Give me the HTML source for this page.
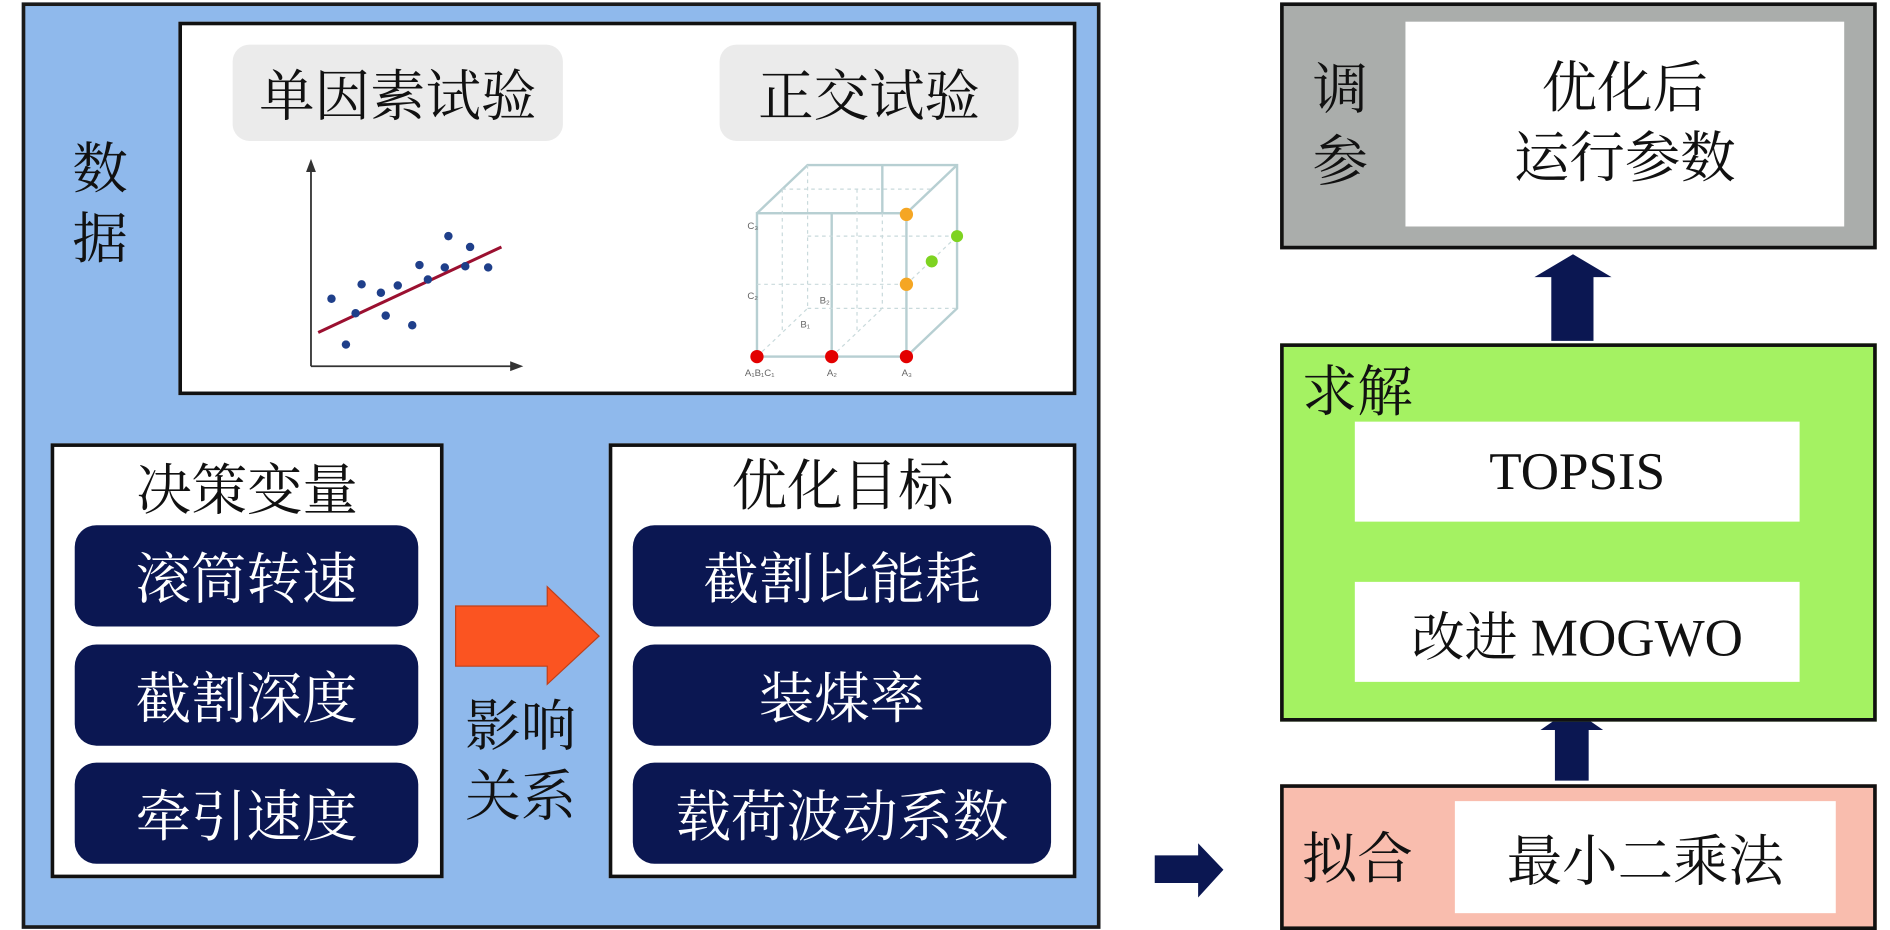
<!DOCTYPE html>
<html><head><meta charset="utf-8"><style>
html,body{margin:0;padding:0;background:#fff;width:1890px;height:930px;overflow:hidden}
#s{position:absolute;left:0;top:0;width:1568px;height:772px;transform:scale(1.20536,1.2047);transform-origin:0 0;font-family:"Liberation Serif","Noto Serif CJK SC","Noto Sans CJK SC",serif}
.a{position:absolute;box-sizing:border-box}
.t{display:flex;align-items:center;justify-content:center;font-size:46px;color:#111}
.pill{background:#0b1752;border-radius:18px;color:#fff}
</style></head><body><div id="s">
<div class="a" style="left:18px;top:2px;width:895px;height:769px;background:#8fb9ec;border:3px solid #1a1a1a"></div>
<div class="a" style="left:148px;top:18px;width:745px;height:310px;background:#fff;border:3px solid #111"></div>
<div class="a t" style="left:193px;top:37px;width:274px;height:80px;background:#ebebeb;border-radius:14px">单因素试验</div>
<div class="a t" style="left:597px;top:37px;width:248px;height:80px;background:#ebebeb;border-radius:14px">正交试验</div>
<div class="a t" style="left:58px;top:112px;width:50px;height:116px;flex-direction:column;line-height:58px">数<br>据</div>
<svg class="a" style="left:0;top:0" width="1568" height="772">
<g stroke="#333" stroke-width="1.5" fill="#333">
<line x1="258" y1="138" x2="258" y2="304"/><line x1="258" y1="304" x2="428" y2="304"/>
<polygon points="255,142 261,142 258,134"/><polygon points="424,301 424,307 432,304"/></g>
<line x1="264" y1="276" x2="416" y2="205" stroke="#9b1030" stroke-width="2.5"/>
<g fill="#1f3f8a">
<circle cx="275" cy="248" r="3.5"/><circle cx="287" cy="286" r="3.5"/><circle cx="295" cy="260" r="3.5"/><circle cx="300" cy="236" r="3.5"/><circle cx="316" cy="243" r="3.5"/><circle cx="320" cy="262" r="3.5"/><circle cx="330" cy="237" r="3.5"/><circle cx="342" cy="270" r="3.5"/><circle cx="348" cy="220" r="3.5"/><circle cx="355" cy="232" r="3.5"/><circle cx="369" cy="222" r="3.5"/><circle cx="372" cy="196" r="3.5"/><circle cx="386" cy="221" r="3.5"/><circle cx="390" cy="205" r="3.5"/><circle cx="405" cy="222" r="3.5"/></g>
<g stroke="#b7cfd2" stroke-width="2" fill="none">
<rect x="628" y="177" width="124" height="119"/><polyline points="628,177 670,137 794,137 794,256 752,296"/><line x1="752" y1="177" x2="794" y2="137"/>
<line x1="690" y1="177" x2="690" y2="296"/><line x1="732" y1="137" x2="732" y2="177"/></g>
<g stroke="#c9dadc" stroke-width="1" stroke-dasharray="3,3" fill="none">
<line x1="628" y1="296" x2="670" y2="256"/><line x1="670" y1="137" x2="670" y2="256"/><line x1="670" y1="256" x2="794" y2="256"/>
<line x1="628" y1="236" x2="752" y2="236"/><line x1="649" y1="157" x2="649" y2="276"/><line x1="649" y1="157" x2="773" y2="157"/><line x1="690" y1="296" x2="732" y2="256"/><line x1="732" y1="177" x2="732" y2="256"/><line x1="752" y1="236" x2="794" y2="196"/><line x1="670" y1="196" x2="794" y2="196"/><line x1="711" y1="157" x2="711" y2="276"/></g>
<g font-size="8" fill="#666" font-family="Liberation Sans,sans-serif"><text x="620" y="190">C₃</text><text x="620" y="248">C₂</text><text x="680" y="252">B₂</text><text x="664" y="272">B₁</text><text x="618" y="312">A₁B₁C₁</text><text x="686" y="312">A₂</text><text x="748" y="312">A₃</text></g>
<circle cx="752" cy="178" r="5.5" fill="#f5a623"/><circle cx="752" cy="236" r="5.5" fill="#f5a623"/><circle cx="794" cy="196" r="5" fill="#7ed321"/><circle cx="773" cy="217" r="5" fill="#7ed321"/>
<circle cx="628" cy="296" r="5.5" fill="#e30000"/><circle cx="690" cy="296" r="5.5" fill="#e30000"/><circle cx="752" cy="296" r="5.5" fill="#e30000"/>
<polygon points="378,503 454,503 454,487 497,528 454,568 454,553 378,553" fill="#fb5421" stroke="#c0401a" stroke-width="1"/>
<polygon points="1287,283 1287,230 1273,230 1305,211 1337,230 1322,230 1322,283" fill="#0b1752"/>
<polygon points="1290,648 1290,606 1278,606 1304,588 1330,606 1318,606 1318,648" fill="#0b1752"/>
<polygon points="1295,477 1295,460 1285,460 1304,442 1323,460 1313,460 1313,477" fill="#fb5421"/>
<polygon points="958,710 994,710 994,700 1015,722 994,745 994,733 958,733" fill="#0b1752"/>
</svg>
<div class="a" style="left:42px;top:368px;width:326px;height:361px;background:#fff;border:3px solid #111"></div>
<div class="a t" style="left:42px;top:376px;width:326px;height:56px">决策变量</div>
<div class="a t pill" style="left:62px;top:436px;width:285px;height:84px">滚筒转速</div>
<div class="a t pill" style="left:62px;top:535px;width:285px;height:84px">截割深度</div>
<div class="a t pill" style="left:62px;top:633px;width:285px;height:84px">牵引速度</div>
<div class="a t" style="left:380px;top:575px;width:104px;height:116px;line-height:58px;text-align:center">影响<br>关系</div>
<div class="a" style="left:505px;top:368px;width:388px;height:361px;background:#fff;border:3px solid #111"></div>
<div class="a t" style="left:505px;top:372px;width:388px;height:56px">优化目标</div>
<div class="a t pill" style="left:525px;top:436px;width:347px;height:84px">截割比能耗</div>
<div class="a t pill" style="left:525px;top:535px;width:347px;height:84px">装煤率</div>
<div class="a t pill" style="left:525px;top:633px;width:347px;height:84px">载荷波动系数</div>
<div class="a" style="left:1062px;top:2px;width:495px;height:205px;background:#aaadab;border:3px solid #111"></div>
<div class="a t" style="left:1084px;top:30px;width:56px;height:150px;line-height:60px;text-align:center">调<br>参</div>
<div class="a t" style="left:1166px;top:18px;width:364px;height:170px;background:#fff;line-height:58px;text-align:center">优化后<br>运行参数</div>
<div class="a" style="left:1062px;top:285px;width:495px;height:314px;background:#a4f262;border:3px solid #111"></div>
<div class="a t" style="left:1074px;top:296px;width:104px;height:52px">求解</div>
<div class="a t" style="left:1124px;top:350px;width:369px;height:83px;background:#fff;font-size:44px">TOPSIS</div>
<div class="a t" style="left:1124px;top:483px;width:369px;height:83px;background:#fff;font-size:44px">改进 MOGWO</div>
<div class="a" style="left:1062px;top:651px;width:495px;height:121px;background:#f9bdae;border:3px solid #111"></div>
<div class="a t" style="left:1074px;top:680px;width:104px;height:60px">拟合</div>
<div class="a t" style="left:1207px;top:665px;width:316px;height:93px;background:#fff">最小二乘法</div>
</div></body></html>
